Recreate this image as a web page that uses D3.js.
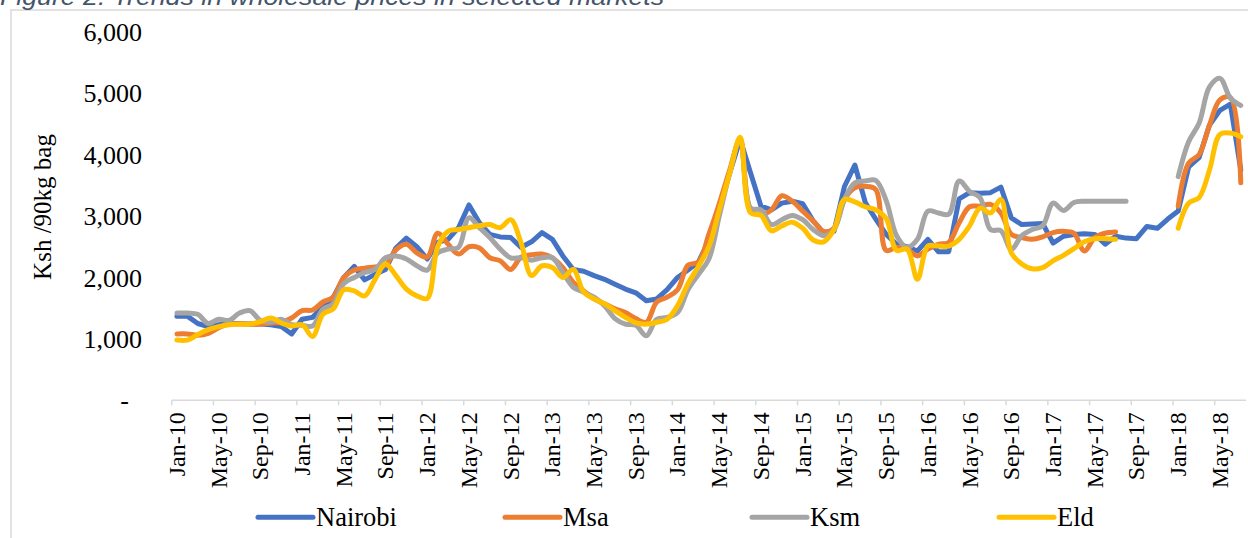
<!DOCTYPE html>
<html>
<head>
<meta charset="utf-8">
<script src="https://cdn.jsdelivr.net/npm/d3@7"></script>
<style>
html, body { margin: 0; padding: 0; background: #fff; }
svg { display: block; }
</style>
</head>
<body>
<svg id="chart" width="1248" height="538"></svg>
<script>
// monthly categories Jan-10 .. Jul-18
const months = d3.timeMonth.range(new Date(2010, 0, 1), new Date(2018, 7, 1)).map(d3.timeFormat("%b-%y"))

// wholesale prices, Ksh per 90kg bag
const nairobi = [1370,1370,1250,1200,1230,1250,1250,1240,1240,1230,1200,1080,
  1320,1350,1520,1680,2000,2180,1960,2050,2130,2480,2640,2500,
  2300,2570,2620,2810,3180,2890,2700,2660,2650,2490,2580,2730,
  2620,2350,2130,2100,2030,1970,1890,1810,1750,1620,1650,1800,
  2000,2120,2250,2600,3150,3700,4250,3700,3160,3100,3210,3240,
  3200,2920,2730,2750,3480,3830,3220,2950,2700,2540,2500,2430,
  2620,2420,2420,3280,3380,3370,3380,3470,2970,2860,2870,2880,
  2560,2670,2700,2710,2700,2540,2670,2640,2630,2830,2800,2950,
  3080,3800,3950,4480,4720,4820,3750]

const msa = [1080,1080,1060,1090,1180,1240,1240,1240,1240,1260,1270,1340,
  1460,1470,1600,1680,2000,2120,2150,2170,2200,2450,2540,2400,
  2330,2720,2540,2380,2500,2480,2320,2270,2130,2330,2370,2380,
  2320,2160,1920,1780,1650,1570,1490,1430,1330,1270,1600,1680,
  1800,2200,2250,2700,3200,3750,4250,3100,3020,3100,3330,3240,
  3080,2920,2750,2800,3270,3460,3480,3430,2440,2490,2460,2350,
  2460,2540,2570,2890,3150,3160,3190,3050,2700,2650,2620,2660,
  2730,2750,2720,2430,2650,2720,2740,null,null,null,null,null,
  3160,3860,4000,4480,4890,4930,3540]

const ksm = [1420,1420,1400,1250,1320,1300,1420,1460,1300,1270,1320,1230,
  1220,1210,1480,1570,1900,2000,2080,2130,2320,2350,2300,2190,
  2120,2400,2460,2490,2970,2810,2650,2460,2320,2320,2280,2320,
  2320,2080,1840,1760,1680,1540,1330,1240,1220,1050,1320,1350,
  1430,1800,2050,2300,3000,3700,4240,3130,3100,2860,2940,3010,
  2940,2780,2680,2780,3270,3540,3570,3580,3250,2680,2490,2620,
  3080,3050,3030,3570,3400,3300,2780,2760,2460,2680,2780,2840,
  3210,3090,3220,3240,3240,3240,3240,3240,null,null,null,null,
  3640,4210,4510,5100,5240,4920,4800]

const eld = [980,980,1070,1150,1200,1230,1240,1240,1280,1340,1260,1210,
  1230,1040,1400,1490,1800,1780,1700,1970,2220,2030,1810,1700,
  1660,2500,2750,2780,2810,2840,2860,2810,2940,2560,2030,2190,
  2160,2000,2130,1760,1650,1570,1460,1350,1260,1240,1270,1320,
  1540,1900,2180,2500,3100,3700,4280,3050,3010,2760,2840,2900,
  2800,2610,2580,2780,3270,3230,3150,3100,2960,2440,2460,1970,
  2510,2510,2510,2620,2840,3130,3050,3270,2400,2220,2140,2160,
  2270,2360,2470,2580,2630,2630,2620,null,null,null,null,null,
  2800,3210,3300,3750,4330,4350,4290]

const seriesNames = ["Nairobi", "Msa", "Ksm", "Eld"]
const seriesValues = [nairobi, msa, ksm, eld]
const colors = ["#4472C4", "#ED7D31", "#A5A5A5", "#FFC000"]
const yTicks = [0, 1000, 2000, 3000, 4000, 5000, 6000]
const xTickLabels = months.filter((m, i) => i % 4 === 0)

const serif = "'Liberation Serif', 'Times New Roman', serif"
const svg = d3.select("#chart")

// chart frame and the caption clipped at the top (as in the source page)
svg.append("rect")
  .attr("x", 11).attr("y", 10).attr("width", 1260).attr("height", 560)
  .attr("fill", "none").attr("stroke", "#D9D9D9").attr("stroke-width", 1.5)

svg.append("text")
  .attr("x", 0).attr("y", 5)
  .attr("font-family", "'Liberation Sans', Arial, sans-serif")
  .attr("font-style", "italic")
  .attr("font-size", 23)
  .attr("textLength", 664)
  .attr("lengthAdjust", "spacingAndGlyphs")
  .attr("fill", "#44546A")
  .text("Figure 2: Trends in wholesale prices in selected markets")

const x = d3.scaleBand().domain(months).range([171.7, 1246]).padding(0)
const y = d3.scaleLinear().domain([0, 6000]).range([400.3, 31.7])
const bw = x.bandwidth()

// y axis: labels only, accounting style dash for zero
const yAxis = svg.append("g")
  .attr("transform", "translate(142,0)")
  .call(d3.axisLeft(y).tickValues(yTicks).tickSize(0).tickPadding(0)
    .tickFormat(d => d === 0 ? "-" : d3.format(",")(d)))
yAxis.select(".domain").remove()
yAxis.selectAll("text")
  .attr("font-family", serif).attr("font-size", 26).attr("fill", "#000")
  .attr("dy", "0.33em")
yAxis.selectAll(".tick").filter(d => d === 0).select("text").attr("x", -13)

svg.append("text")
  .attr("transform", "translate(51,207) rotate(-90)")
  .attr("text-anchor", "middle")
  .attr("font-family", serif).attr("font-size", 25).attr("fill", "#000")
  .text("Ksh /90kg bag")

// x axis: tick marks between categories, every fourth month labelled
const xAxis = svg.append("g")
  .attr("transform", `translate(0,${y(0)})`)
  .call(d3.axisBottom(x).tickValues(xTickLabels).tickSizeOuter(0).tickSize(5).tickPadding(12))
xAxis.select(".domain").attr("stroke", "#D9D9D9").attr("stroke-width", 1.5)
  .attr("d", `M${x.range()[0]},0H${x.range()[1]}`)
xAxis.selectAll(".tick line")
  .attr("x1", -bw / 2).attr("x2", -bw / 2)
  .attr("stroke", "#D9D9D9").attr("stroke-width", 1.5)
xAxis.selectAll(".tick text")
  .attr("font-family", serif).attr("font-size", 24).attr("fill", "#000")
  .attr("text-anchor", "end")
  .attr("transform", "rotate(-90)")
  .attr("x", -12).attr("y", 0).attr("dy", "0.33em")

// series lines, Nairobi straight, the others smoothed
const lineFor = i => d3.line()
  .defined(d => d != null)
  .x((d, j) => x(months[j]) + bw / 2)
  .y(d => y(d))
  .curve(i === 0 ? d3.curveLinear : d3.curveCatmullRom.alpha(0.5))

seriesValues.forEach((vals, i) => {
  svg.append("path")
    .datum(vals)
    .attr("fill", "none")
    .attr("stroke", colors[i])
    .attr("stroke-width", 5)
    .attr("stroke-linejoin", "round")
    .attr("stroke-linecap", "round")
    .attr("d", lineFor(i))
})

// legend
const legendX = [258, 505, 752, 999]
const legend = svg.append("g")
seriesNames.forEach((name, i) => {
  legend.append("line")
    .attr("x1", legendX[i]).attr("x2", legendX[i] + 55)
    .attr("y1", 517.3).attr("y2", 517.3)
    .attr("stroke", colors[i]).attr("stroke-width", 5)
    .attr("stroke-linecap", "round")
  legend.append("text")
    .attr("x", legendX[i] + 58).attr("y", 525.5)
    .attr("font-family", serif).attr("font-size", 26.5).attr("fill", "#000")
    .text(name)
})
</script>
</body>
</html>
